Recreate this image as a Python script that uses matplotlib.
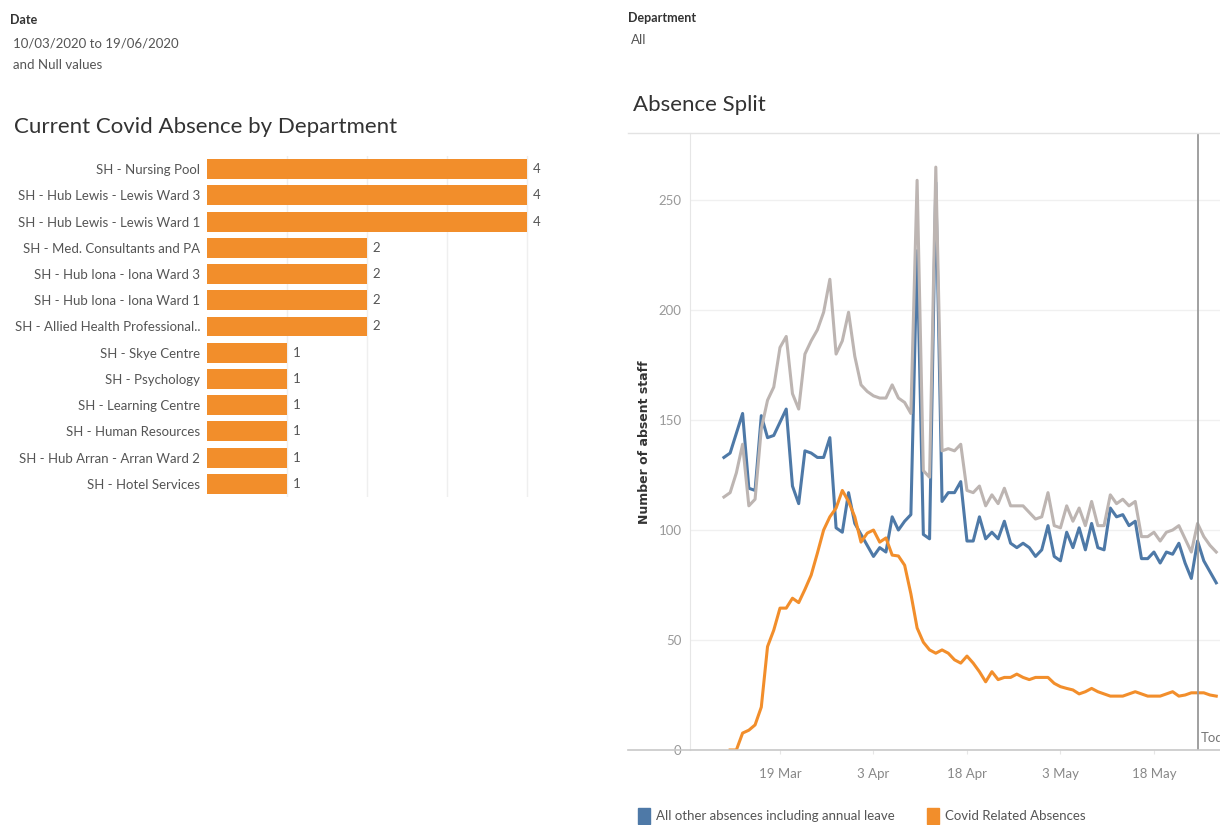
import numpy as np
import pandas as pd
import matplotlib
matplotlib.use("Agg")
import matplotlib.pyplot as plt
import matplotlib.dates as mdates
from matplotlib.patches import Patch
from matplotlib.lines import Line2D

plt.rcParams['font.family'] = ['Lato', 'DejaVu Sans']

W, H = 1220, 825

# left panel: current covid absence by department
departments = ["SH - Nursing Pool", "SH - Hub Lewis - Lewis Ward 3", "SH - Hub Lewis - Lewis Ward 1",
               "SH - Med. Consultants and PA", "SH - Hub Iona - Iona Ward 3", "SH - Hub Iona - Iona Ward 1",
               "SH - Allied Health Professional..", "SH - Skye Centre", "SH - Psychology",
               "SH - Learning Centre", "SH - Human Resources", "SH - Hub Arran - Arran Ward 2",
               "SH - Hotel Services"]
covid_counts = [4, 4, 4, 2, 2, 2, 2, 1, 1, 1, 1, 1, 1]

# right panel: daily absence split, from 10 Mar 2020
start_date = "2020-03-10"
other_absences = [133, 135, 144, 153, 119, 118, 152, 142, 143, 149,
                  155, 120, 112, 136, 135, 133, 133, 142, 101, 99,
                  117, 103, 98, 93, 88, 92, 90, 106, 100, 104,
                  107, 227, 98, 96, 258, 113, 117, 117, 122, 95,
                  95, 106, 96, 99, 96, 104, 94, 92, 94, 92,
                  88, 91, 102, 88, 86, 99, 92, 101, 91, 103,
                  92, 91, 110, 106, 107, 102, 104, 87, 87, 90,
                  85, 90, 89, 94, 85, 78, 95, 86, 81, 76]
covid_absences = [np.nan, 0, 0, 7.7, 9, 11.4, 19.5, 47, 54.5, 64.5,
                  64.5, 69, 67, 73, 79.5, 89.5, 100, 106, 110, 118,
                  113, 106, 94.5, 98.6, 100, 94.5, 96.4, 88.6, 88.2, 84,
                  71, 55.5, 49, 45.5, 44, 45.5, 44, 41, 39.5, 42.7,
                  39.5, 35.6, 31, 35.6, 32, 33, 33, 34.5, 33, 32,
                  33, 33, 33, 30.3, 28.8, 28, 27.3, 25.5, 26.5, 28,
                  26.5, 25.5, 24.5, 24.5, 24.5, 25.5, 26.5, 25.5, 24.5, 24.5,
                  24.5, 25.5, 26.5, 24.5, 25, 26, 26, 26, 25, 24.5]
all_absences = [115, 117, 126, 139, 111, 114, 146, 159, 165, 183,
                188, 162, 155, 180, 186, 191, 199, 214, 180, 186,
                199, 179, 166, 163, 161, 160, 160, 166, 160, 158,
                153, 259, 127, 124, 265, 136, 137, 136, 139, 118,
                117, 120, 111, 116, 112, 119, 111, 111, 111, 108,
                105, 106, 117, 102, 101, 111, 104, 110, 102, 113,
                102, 102, 116, 112, 114, 111, 113, 97, 97, 99,
                95, 99, 100, 102, 96, 90, 103, 97, 93, 90]
tick_dates = ["2020-03-19", "2020-04-03", "2020-04-18", "2020-05-03", "2020-05-18"]
tick_labels = ["19 Mar", "3 Apr", "18 Apr", "3 May", "18 May"]
today = "2020-05-25"
y_ticks = [0, 50, 100, 150, 200, 250]

BLUE = "#4E79A7"
ORANGE = "#F28E2B"
GREY = "#BDB5B2"


def box(l, t, r, b):
    return [l / W, 1 - b / H, (r - l) / W, (b - t) / H]


fig = plt.figure(figsize=(W / 100, H / 100), dpi=100)

# filter captions
fig.text(10 / W, 1 - 20 / H, "Date", fontsize=9, fontweight="bold", color="#333333", va="center")
fig.text(13 / W, 1 - 43 / H, "10/03/2020 to 19/06/2020", fontsize=9.5, color="#555555", va="center")
fig.text(13 / W, 1 - 65 / H, "and Null values", fontsize=9.5, color="#555555", va="center")
fig.text(628 / W, 1 - 18 / H, "Department", fontsize=9, fontweight="bold", color="#333333", va="center")
fig.text(631 / W, 1 - 40 / H, "All", fontsize=9.5, color="#555555", va="center")

# bar chart
fig.text(14 / W, 1 - 127 / H, "Current Covid Absence by Department", fontsize=16, color="#333333", va="center")
ax1 = fig.add_axes(box(207, 156, 607, 497))
ypos = np.arange(len(departments))
bars = ax1.barh(ypos, covid_counts, height=0.76, color=ORANGE, zorder=2)
ax1.bar_label(bars, padding=4, fontsize=9.5, color="#555555")
ax1.set_ylim(len(departments) - 0.5, -0.5)
ax1.set_xlim(0, 5)
ax1.set_yticks(ypos)
ax1.set_yticklabels(departments, fontsize=9.5, color="#555555")
ax1.set_xticks([1, 2, 3, 4])
ax1.set_xticklabels([])
ax1.tick_params(length=0, pad=5)
ax1.grid(axis="x", color="#efefef", lw=1, zorder=0)
for s in ax1.spines.values():
    s.set_visible(False)

# line chart
fig.text(633 / W, 1 - 105 / H, "Absence Split", fontsize=16, color="#333333", va="center")
ax2 = fig.add_axes(box(690, 133, 1220, 750))
dates = pd.date_range(start_date, periods=len(other_absences), freq="D")
ax2.plot(dates, other_absences, color=BLUE, lw=2.2, zorder=3)
ax2.plot(dates, all_absences, color=GREY, lw=2.2, zorder=4)
ax2.plot(dates, covid_absences, color=ORANGE, lw=2.2, zorder=5)

d0 = mdates.date2num(pd.Timestamp(start_date))
ax2.set_xlim(d0 - 5.44, d0 + 79.6)
ax2.set_ylim(0, 280.5)
ax2.set_yticks(y_ticks)
ax2.set_yticklabels([str(v) for v in y_ticks])
ax2.set_xticks(pd.to_datetime(tick_dates))
ax2.set_xticklabels(tick_labels)
ax2.tick_params(axis="y", length=0, pad=6, labelsize=9.5, labelcolor="#999999")
ax2.tick_params(axis="x", length=3, color="#e6e6e6", pad=10, labelsize=9.5, labelcolor="#888888")
ax2.grid(axis="y", color="#f0f0f0", lw=1, zorder=0)
for s in ["top", "right", "bottom"]:
    ax2.spines[s].set_visible(False)
ax2.spines["left"].set_color("#e6e6e6")

ax2.axvline(pd.Timestamp(today), color="#999999", lw=1.3, zorder=6)
ax2.text(pd.Timestamp(today) + pd.Timedelta(hours=12), 5.5, "Today", fontsize=9.5,
         color="#777777", va="center", ha="left", clip_on=True)

fig.add_artist(Line2D([628 / W, 1], [1 - 133 / H] * 2, color="#e3e3e3", lw=1, transform=fig.transFigure))
fig.add_artist(Line2D([628 / W, 1], [1 - 750 / H] * 2, color="#c8c8c8", lw=1.2, transform=fig.transFigure))

fig.text(645 / W, 1 - 442 / H, "Number of absent staff", rotation=90, fontsize=9,
         fontweight="bold", color="#333333", ha="center", va="center", family="DejaVu Sans")

fig.legend(handles=[Patch(color=BLUE), Patch(color=ORANGE)],
           labels=["All other absences including annual leave", "Covid Related Absences"],
           loc="center left", bbox_to_anchor=(626 / W, 1 - 816 / H), ncol=2, frameon=False,
           handlelength=0.9, handleheight=1.4, handletextpad=0.5, columnspacing=2.4,
           fontsize=9.5, labelcolor="#555555")

fig.savefig("out.png", dpi=100)
